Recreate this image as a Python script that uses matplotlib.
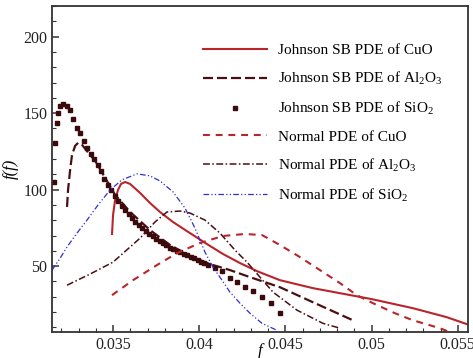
import matplotlib
matplotlib.use("Agg")
import matplotlib.pyplot as plt
from matplotlib.ticker import MultipleLocator, FormatStrFormatter

plt.rcParams["font.family"] = ["Liberation Serif", "DejaVu Serif"]
plt.rcParams["mathtext.fontset"] = "custom"
plt.rcParams["mathtext.rm"] = "Liberation Serif"
plt.rcParams["mathtext.it"] = "Liberation Serif:italic"
plt.rcParams["font.size"] = 11

# Johnson SB PDE of CuO
jsb_cuo_x = [0.03494, 0.0350, 0.03512, 0.03529, 0.03546, 0.0357, 0.03599, 0.03657, 0.03714,
             0.03772, 0.03848, 0.03946, 0.04045, 0.04138, 0.04236, 0.04335, 0.04468, 0.04659,
             0.04816, 0.05001, 0.05239, 0.05436, 0.0558]
jsb_cuo_y = [71.0, 83.4, 93.3, 99.8, 103.7, 105.0, 103.7, 97.8, 91.3,
             85.4, 78.8, 71.6, 64.4, 57.9, 52.0, 46.7, 40.8, 35.6,
             32.3, 28.4, 22.5, 16.6, 11.0]

# Johnson SB PDE of Al2O3
jsb_al_x = [0.03233, 0.03239, 0.03251, 0.03262, 0.0328, 0.03297, 0.0332, 0.03343, 0.03396,
            0.03454, 0.03512, 0.03599, 0.03714, 0.0383, 0.03946, 0.04062, 0.04178, 0.04294,
            0.04468, 0.04659, 0.04891]
jsb_al_y = [88.7, 99.8, 112.9, 122.7, 128.6, 130.6, 129.3, 126.0, 118.8,
            107.7, 96.5, 85.4, 73.6, 63.8, 56.6, 51.3, 47.4, 42.8,
            36.2, 26.4, 14.6]

# Johnson SB PDE of SiO2 (square dots)
jsb_si_x = [0.03158, 0.03164, 0.03175, 0.03181, 0.03193, 0.0321, 0.0323, 0.0325, 0.0327,
            0.0329, 0.0331, 0.0333, 0.0335, 0.0337, 0.0339, 0.0341, 0.0343, 0.0345,
            0.0347, 0.0349, 0.0351, 0.0353, 0.0355, 0.0357, 0.0359, 0.0361, 0.0363,
            0.0365, 0.0367, 0.0369, 0.0371, 0.0373, 0.0375, 0.0377, 0.0379, 0.0381,
            0.0383, 0.0385, 0.0387, 0.0389, 0.0391, 0.0393, 0.0395, 0.0397, 0.0399,
            0.0401, 0.0403, 0.0405, 0.0409, 0.0413, 0.0418, 0.0422, 0.04265, 0.0431,
            0.04364, 0.04416, 0.04468]
jsb_si_y = [105.0, 130.6, 143.7, 150.3, 154.8, 156.2, 155.0, 152.0, 146.5,
            140.0, 137.0, 132.0, 127.0, 123.0, 120.0, 116.0, 112.0, 107.0,
            103.0, 99.5, 96.0, 92.5, 89.5, 86.5, 84.0, 81.5, 79.0,
            77.0, 75.0, 73.0, 71.0, 69.5, 68.0, 66.5, 65.0, 63.5,
            62.0, 61.0, 60.0, 59.0, 58.0, 57.0, 56.0, 55.0, 54.0,
            53.0, 52.0, 51.0, 49.0, 46.5, 42.5, 39.8, 36.2, 33.6,
            29.7, 25.8, 19.2]

# Normal PDE of CuO
nrm_cuo_x = [0.03494, 0.03616, 0.03755, 0.03871, 0.04004, 0.04138, 0.04265, 0.04364, 0.04468,
             0.04584, 0.047, 0.04816, 0.04914, 0.05007, 0.05135, 0.05239, 0.05396, 0.0545]
nrm_cuo_y = [31.0, 40.8, 50.7, 58.5, 65.1, 69.7, 71.0, 70.3, 63.8,
             55.9, 47.4, 38.9, 31.0, 25.8, 19.2, 14.6, 9.4, 7.0]

# Normal PDE of Al2O3
nrm_al_x = [0.03233, 0.03367, 0.035, 0.03657, 0.03743, 0.03813, 0.03888, 0.03946, 0.04033,
            0.0412, 0.04207, 0.04277, 0.04352, 0.04428, 0.04567, 0.04717, 0.04816]
nrm_al_y = [37.5, 44.8, 52.6, 68.3, 78.8, 85.4, 86.0, 84.7, 80.1,
            71.6, 60.5, 52.6, 42.8, 33.0, 21.2, 12.6, 9.4]

# Normal PDE of SiO2
nrm_si_x = [0.03146, 0.03193, 0.03233, 0.03291, 0.03349, 0.03413, 0.03483, 0.03552, 0.03639,
            0.03714, 0.03772, 0.03848, 0.03917, 0.03975, 0.04033, 0.0408, 0.04132, 0.04178,
            0.04236, 0.04294, 0.04364, 0.04451]
nrm_si_y = [47.4, 55.2, 62.5, 71.6, 80.1, 90.0, 99.8, 106.4, 110.3,
            109.0, 105.7, 98.5, 88.0, 74.9, 59.2, 49.3, 40.8, 33.0,
            25.8, 19.2, 12.6, 8.0]

red = "#b8252b"
dark = "#4a0f12"
darkdot = "#3a0a0c"
blue = "#2f2fcf"

fig = plt.figure(figsize=(4.73, 3.58), dpi=100)
ax = fig.add_axes([0.110, 0.073, 0.879, 0.910])

ax.plot(jsb_cuo_x, jsb_cuo_y, color=red, lw=1.5, label="Johnson SB PDE of CuO")
ax.plot(jsb_al_x, jsb_al_y, color=dark, lw=1.6, dashes=(4.5, 1.8),
        label="Johnson SB PDE of Al$_2$O$_3$")
ax.plot(jsb_si_x, jsb_si_y, ls="none", marker="s", ms=3.0, color=darkdot,
        label="Johnson SB PDE of SiO$_2$")
ax.plot(nrm_cuo_x, nrm_cuo_y, color=red, lw=1.5, dashes=(3.3, 2.8),
        label="Normal PDE of CuO")
ax.plot(nrm_al_x, nrm_al_y, color=dark, lw=1.1, dashes=(4.5, 1.6, 1.0, 1.6),
        label="Normal PDE of Al$_2$O$_3$")
ax.plot(nrm_si_x, nrm_si_y, color=blue, lw=0.9, dashes=(4.5, 1.8, 1.0, 1.8, 1.0, 1.8),
        label="Normal PDE of SiO$_2$")

ax.set_xlim(0.03146, 0.05558)
ax.set_ylim(7, 220)
ax.xaxis.set_major_locator(MultipleLocator(0.005))
ax.xaxis.set_minor_locator(MultipleLocator(0.001))
ax.xaxis.set_major_formatter(FormatStrFormatter("%g"))
ax.yaxis.set_major_locator(MultipleLocator(50))
ax.yaxis.set_minor_locator(MultipleLocator(10))
ax.tick_params(which="both", direction="in", colors="#333333", labelcolor="#222222")
ax.tick_params(which="major", length=5, width=1.1, labelsize=11.5)
ax.tick_params(which="minor", length=3, width=0.8)
for s in ax.spines.values():
    s.set_color("#333333")
    s.set_linewidth(1.3)

ax.set_xlabel("f", fontstyle="italic", fontsize=12, labelpad=-7)
ax.set_ylabel("f(f)", fontstyle="italic", fontsize=12, labelpad=3)

ax.legend(loc="upper left", bbox_to_anchor=(0.363, 0.886), frameon=False,
          borderpad=0, borderaxespad=0, handlelength=4.2, handletextpad=0.7,
          labelspacing=0.85, numpoints=1, fontsize=11)

fig.savefig("out.png", dpi=100)
